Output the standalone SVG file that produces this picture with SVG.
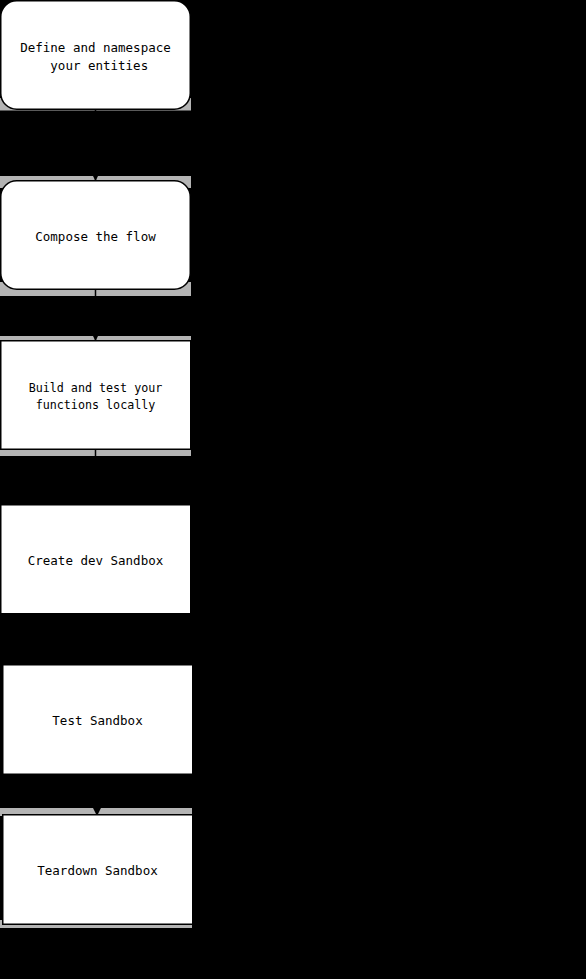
<svg xmlns="http://www.w3.org/2000/svg" width="586" height="979" viewBox="0 0 586 979">
<defs>
<style>
.node rect{fill:#ffffff;stroke:#000000;stroke-width:1.5}
.node text{font-family:"DejaVu Sans Mono","Liberation Mono",monospace;font-size:12.5px;fill:#000000;text-anchor:middle}
.node text.sm{font-size:11.7px}
.edge{stroke:#000000;stroke-width:1.5;fill:none;marker-end:url(#arrow)}
.band{fill:#b4b4b4}
</style>
<marker id="arrow" viewBox="0 0 10 10" refX="9" refY="5" markerWidth="6" markerHeight="6" orient="auto">
<path d="M0,0 L10,5 L0,10 z" fill="#000000"/>
</marker>
</defs>
<rect x="0" y="0" width="586" height="979" fill="#000000"/>
<g id="bands">
<rect class="band" x="0" y="98" width="191" height="12.5" fill="#8a8a8a"/>
<rect class="band" x="0" y="176" width="191" height="12" fill="#a8a8a8"/>
<rect class="band" x="0" y="282" width="191" height="14"/>
<rect class="band" x="0" y="336" width="191" height="6" fill="#bbbbbb"/>
<rect class="band" x="0" y="446" width="191" height="10" fill="#9a9a9a"/>
<rect class="band" x="0" y="808" width="192" height="8" fill="#8a8a8a"/>
<rect class="band" x="0" y="920" width="192" height="8" fill="#cccccc"/>
</g>
<g id="connectors">
<path class="edge" d="M95.5,110 L95.5,180"/>
<path class="edge" d="M95.5,290 L95.5,340"/>
<path class="edge" d="M95.5,450 L95.5,505"/>
<path class="edge" d="M96,614 L96,665"/>
<path class="edge" d="M97,775 L97,815"/>
</g>
<g id="n1" class="node">
<rect x="0.75" y="0.75" width="189.5" height="108.5" rx="16" ry="16"/>
<text x="95.5" y="51.5">Define and namespace</text>
<text x="99.25" y="69.5">your entities</text>
</g>
<g id="n2" class="node">
<rect x="0.75" y="180.75" width="189.5" height="108.5" rx="16" ry="16"/>
<text x="95.5" y="240.5">Compose the flow</text>
</g>
<g id="n3" class="node">
<rect x="0.75" y="340.75" width="190" height="108.5"/>
<text class="sm" x="95.5" y="391.5">Build and test your</text>
<text class="sm" x="95.5" y="408.5">functions locally</text>
</g>
<g id="n4" class="node">
<rect x="0.75" y="504.75" width="190" height="109"/>
<text x="95.5" y="564.5">Create dev Sandbox</text>
</g>
<g id="n5" class="node">
<rect x="2.75" y="664.75" width="190" height="109.5"/>
<text x="97.5" y="724.5">Test Sandbox</text>
</g>
<g id="n6" class="node">
<rect x="2.75" y="814.75" width="190" height="109.5"/>
<text x="97.5" y="874.5">Teardown Sandbox</text>
</g>
</svg>
